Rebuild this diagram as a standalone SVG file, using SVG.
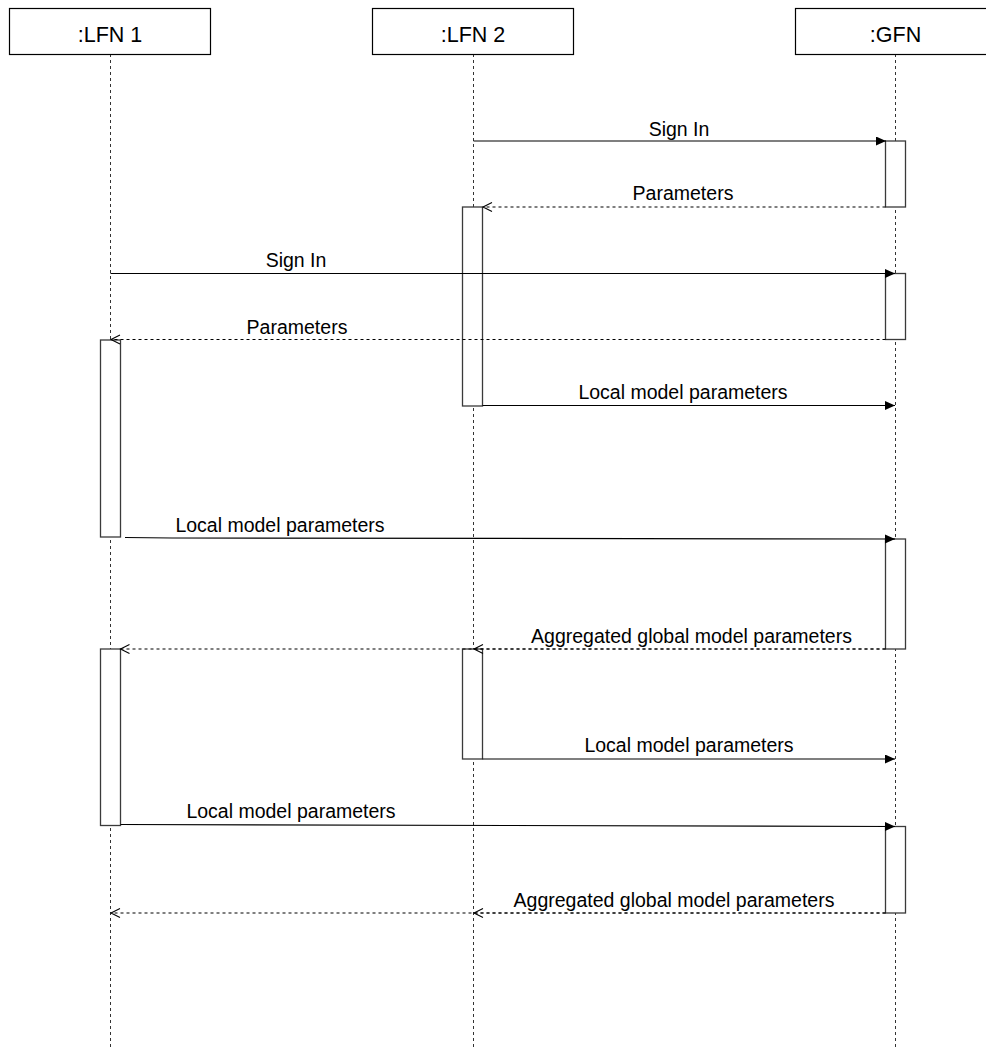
<svg xmlns="http://www.w3.org/2000/svg" width="986" height="1050" viewBox="0 0 986 1050">
  <style>
    .head { fill: #ffffff; stroke: #000000; stroke-width: 1.2; }
    .headtxt { font-family: "Liberation Sans", Arial, Helvetica, sans-serif; font-size: 21.5px; fill: #000000; text-anchor: middle; }
    .life { stroke: #333333; stroke-width: 1; stroke-dasharray: 3 3; fill: none; }
    .act { fill: #ffffff; stroke: #3a3a3a; stroke-width: 1.3; }
    .call { stroke: #000000; stroke-width: 1.2; fill: none; marker-end: url(#solidHead); }
    .ret { stroke: #000000; stroke-width: 1.1; stroke-dasharray: 3 3; fill: none; marker-end: url(#openHead); }
    .lbl { font-family: "Liberation Sans", Arial, Helvetica, sans-serif; font-size: 19.5px; fill: #000000; text-anchor: middle; }
  </style>
  <defs>
    <marker id="solidHead" markerUnits="userSpaceOnUse" markerWidth="11" markerHeight="10" refX="10" refY="4.5" orient="auto">
      <path d="M0,0 L10,4.5 L0,9 Z" fill="#000000"/>
    </marker>
    <marker id="openHead" markerUnits="userSpaceOnUse" markerWidth="12" markerHeight="12" refX="10" refY="5" orient="auto">
      <path d="M1,0.5 L10,5 L1,9.5" fill="none" stroke="#000000" stroke-width="1.1"/>
    </marker>
  </defs>

  <rect width="986" height="1050" fill="#ffffff"/>

  <!-- participant LFN 1 -->
  <g id="lfn1">
    <line class="life" x1="110.5" y1="54" x2="110.5" y2="1050"/>
    <rect class="head" x="9.5" y="8.5" width="201" height="46"/>
    <text class="headtxt" x="110" y="42">:LFN 1</text>
    <rect class="act" x="100.5" y="340" width="20" height="197"/>
    <rect class="act" x="100.5" y="649" width="20" height="176.5"/>
  </g>

  <!-- participant LFN 2 -->
  <g id="lfn2">
    <line class="life" x1="473.5" y1="54" x2="473.5" y2="1050"/>
    <rect class="head" x="372.5" y="8.5" width="201" height="46"/>
    <text class="headtxt" x="473" y="42">:LFN 2</text>
    <rect class="act" x="462.5" y="207" width="20" height="199"/>
    <rect class="act" x="462.5" y="649" width="20" height="110"/>
  </g>

  <!-- participant GFN -->
  <g id="gfn">
    <line class="life" x1="895.5" y1="54" x2="895.5" y2="1050"/>
    <rect class="head" x="795.5" y="8.5" width="201" height="46"/>
    <text class="headtxt" x="895.5" y="42">:GFN</text>
    <rect class="act" x="885.5" y="141" width="20" height="66"/>
    <rect class="act" x="885.5" y="273.5" width="20" height="66"/>
    <rect class="act" x="885.5" y="539" width="20" height="110"/>
    <rect class="act" x="885.5" y="826.5" width="20" height="86.5"/>
  </g>

  <!-- messages -->
  <g id="connectors">
    <line class="call" x1="473.5" y1="141" x2="886" y2="141"/>
    <text class="lbl" x="679" y="135.5">Sign In</text>

    <line class="ret" x1="885.5" y1="207" x2="483" y2="207"/>
    <text class="lbl" x="683" y="200">Parameters</text>

    <line class="call" x1="110.5" y1="273.5" x2="895" y2="273.5"/>
    <text class="lbl" x="296" y="266.5">Sign In</text>

    <line class="ret" x1="885.5" y1="339.5" x2="111" y2="339.5"/>
    <text class="lbl" x="297" y="334">Parameters</text>

    <line class="call" x1="482.5" y1="405.5" x2="895" y2="405.5"/>
    <text class="lbl" x="683" y="399">Local model parameters</text>

    <polyline class="call" points="125,537.5 172,538 895,539"/>
    <text class="lbl" x="280" y="532">Local model parameters</text>

    <line class="ret" x1="885.5" y1="649" x2="120.5" y2="649"/>
    <line class="ret" x1="885.5" y1="649" x2="474" y2="649"/>
    <text class="lbl" x="691.5" y="642.5">Aggregated global model parameters</text>

    <line class="call" x1="482.5" y1="759" x2="895" y2="759"/>
    <text class="lbl" x="689" y="752">Local model parameters</text>

    <line class="call" x1="120.5" y1="824.5" x2="895" y2="826.5"/>
    <text class="lbl" x="291" y="818">Local model parameters</text>

    <line class="ret" x1="885.5" y1="913" x2="111" y2="913"/>
    <line class="ret" x1="885.5" y1="913" x2="474" y2="913"/>
    <text class="lbl" x="674" y="906.5">Aggregated global model parameters</text>
  </g>
</svg>
